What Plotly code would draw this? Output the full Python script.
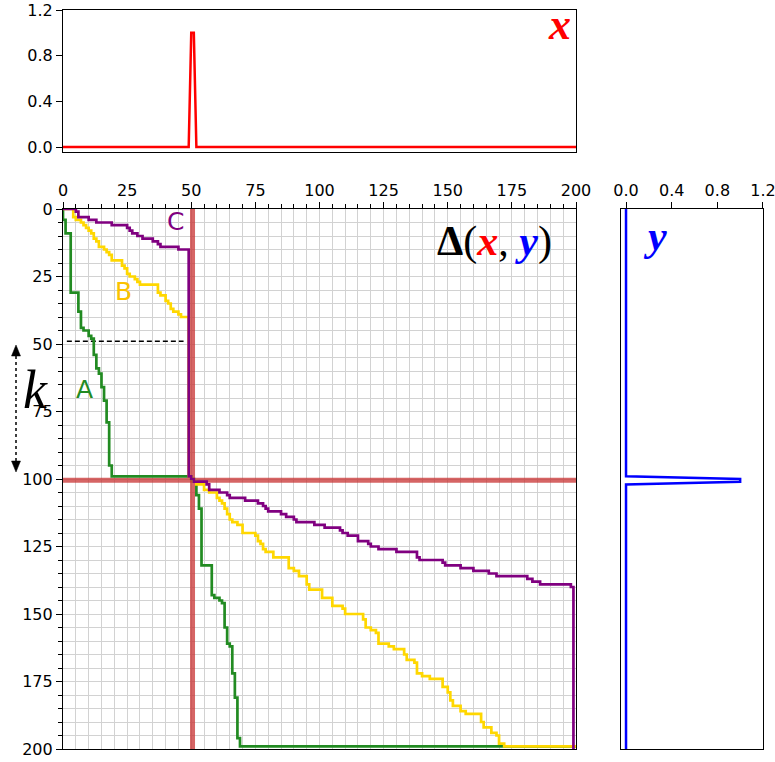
import plotly.graph_objects as go

W, H = 775, 762

# ---------------- data ----------------
n_points = 201
index = list(range(n_points))
x_spike_idx = [50, 51]
y_spike_idx = [100, 101]
x_signal = [1.0 if i in x_spike_idx else 0.0 for i in index]
y_signal = [1.0 if i in y_spike_idx else 0.0 for i in index]

x_peak = 50.5
y_peak = 100.5
k_marker_y = 49
k_marker_x = [1.5, 47]

signal_ticks = [0, 0.4, 0.8, 1.2]
signal_ticktext = ["0.0", "0.4", "0.8", "1.2"]

path_a_x = [0, 0, 1, 1, 3, 3, 6, 6, 7, 7, 8, 10, 11, 12, 12, 13, 13, 14, 15, 15, 16, 16, 17, 17, 18, 18, 19, 19, 49, 50,
            51, 52, 52, 53, 53, 54, 54, 57, 58, 58, 59, 60, 61, 62, 63, 63, 64, 64, 65, 66, 66, 67, 67, 68, 68, 69, 69, 200]
path_a_y = [0, 4, 5, 9, 10, 31, 31, 38, 39, 44, 45, 47, 48, 49, 54, 55, 59, 61, 63, 66, 67, 71, 72, 79, 80, 95, 96, 99, 99, 100,
            101, 102, 106, 107, 111, 112, 132, 132, 133, 143, 144, 144, 145, 146, 148, 155, 156, 161, 162, 165, 172, 173, 181, 182, 196, 197, 199, 199]

path_b_x = [0, 3, 4, 4, 5, 7, 8, 9, 10, 11, 12, 13, 14, 16, 17, 18, 19, 19, 22, 23, 23, 24, 25, 26, 28, 29, 30, 36, 37, 37,
            38, 40, 41, 42, 43, 45, 46, 49, 49, 50, 51,
            52, 54, 55, 57, 59, 60, 61, 62, 63, 64, 65, 66, 68, 70, 70, 74, 75, 76, 77, 78, 79, 82, 87, 88, 88, 90, 92, 95, 96,
            99, 101, 101, 103, 105, 109, 110, 114, 117, 118, 120, 122, 123, 123, 127, 129, 132, 133, 134, 137, 138, 138, 140,
            143, 146, 148, 150, 151, 152, 155, 157, 160, 163, 164, 167, 169, 170, 172, 200]
path_b_y = [0, 0, 1, 3, 4, 5, 6, 7, 8, 9, 11, 12, 14, 15, 16, 17, 18, 19, 19, 20, 21, 22, 24, 25, 26, 27, 28, 28, 30, 31,
            32, 34, 35, 37, 38, 39, 40, 40, 99, 100, 101,
            102, 102, 104, 105, 105, 107, 108, 109, 111, 113, 115, 116, 117, 118, 120, 120, 121, 123, 124, 126, 127, 129, 129, 131, 133, 134, 136, 139, 141,
            141, 142, 144, 144, 147, 148, 150, 150, 152, 155, 156, 157, 158, 161, 162, 163, 163, 165, 167, 168, 170, 172, 173,
            174, 174, 177, 179, 182, 184, 186, 187, 187, 190, 192, 194, 195, 198, 199, 199]

path_c_x = [0, 4, 5, 6, 9, 10, 12, 13, 18, 19, 24, 25, 26, 27, 29, 31, 33, 35, 37, 38, 44, 45, 49, 49, 50, 51,
            55, 56, 57, 57, 60, 61, 64, 65, 70, 71, 75, 76, 78, 79, 80, 83, 85, 87, 90, 91, 96, 98, 101, 102, 108, 109, 111,
            114, 115, 118, 119, 120, 123, 129, 130, 137, 138, 139, 146, 148, 149, 154, 155, 159, 160, 165, 166, 168, 169,
            180, 181, 183, 186, 197, 198, 199, 199]
path_c_y = [0, 0, 1, 3, 3, 4, 4, 5, 5, 6, 6, 7, 8, 9, 10, 11, 11, 12, 13, 14, 14, 15, 15, 99, 100, 101,
            101, 102, 103, 104, 104, 105, 106, 107, 107, 108, 108, 109, 110, 111, 112, 112, 113, 114, 115, 116, 116, 117, 117, 118, 119, 120, 121,
            121, 123, 123, 124, 125, 126, 126, 127, 127, 129, 130, 130, 131, 132, 132, 133, 133, 134, 134, 135, 135, 136,
            136, 137, 138, 139, 139, 140, 141, 200]

# ---------------- layout helpers ----------------
def px_x(px):
    return px / W

def px_y(py):
    return 1 - py / H

main_xd = [px_x(63), px_x(576)]
main_yd = [px_y(749), px_y(209)]
top_yd = [px_y(152), px_y(10)]
right_xd = [px_x(621), px_x(763)]

GREEN = "#228B22"
GOLD = "#FFD700"
PURPLE = "#800080"
GRID = "#d2d2d2"
TICKFONT = dict(family="DejaVu Sans", size=16, color="black")

fig = go.Figure()

# top panel: x signal
fig.add_trace(go.Scatter(x=index, y=x_signal, mode="lines", line=dict(color="red", width=2.5),
                         xaxis="x2", yaxis="y2", showlegend=False, hoverinfo="skip"))
# right panel: y signal
fig.add_trace(go.Scatter(x=y_signal, y=index, mode="lines", line=dict(color="blue", width=2.5),
                         xaxis="x3", yaxis="y3", showlegend=False, hoverinfo="skip"))

# main panel: peak markers
fig.add_trace(go.Scatter(x=[x_peak, x_peak], y=[0, 200], mode="lines",
                         line=dict(color="rgba(200,50,50,0.75)", width=5), showlegend=False, hoverinfo="skip"))
fig.add_trace(go.Scatter(x=[0, 200], y=[y_peak, y_peak], mode="lines",
                         line=dict(color="rgba(200,50,50,0.75)", width=5), showlegend=False, hoverinfo="skip"))
# dashed k marker
fig.add_trace(go.Scatter(x=k_marker_x, y=[k_marker_y, k_marker_y], mode="lines",
                         line=dict(color="black", width=1.5, dash="5px,3px"), showlegend=False, hoverinfo="skip"))

# warping paths
for xs, ys, col in [(path_a_x, path_a_y, GREEN), (path_b_x, path_b_y, GOLD), (path_c_x, path_c_y, PURPLE)]:
    fig.add_trace(go.Scatter(x=xs, y=ys, mode="lines", line=dict(color=col, width=2.7, shape="hv"),
                             showlegend=False, hoverinfo="skip"))

axis_common = dict(showline=True, mirror=True, linecolor="black", linewidth=1.2, zeroline=False,
                   automargin=False, tickfont=TICKFONT, tickcolor="black")

fig.update_layout(
    width=W, height=H, margin=dict(l=0, r=0, t=0, b=0), autosize=False,
    paper_bgcolor="white", plot_bgcolor="white",
    xaxis=dict(domain=main_xd, range=[0, 200], side="top", anchor="y", tickmode="linear", tick0=0, dtick=25,
               ticks="outside", ticklen=6, tickwidth=1.2, showgrid=True, gridcolor=GRID, gridwidth=1.3,
               ticklabeloverflow="allow",
               minor=dict(dtick=5, tick0=0, ticks="outside", ticklen=3.5, tickwidth=1, tickcolor="black",
                          showgrid=True, gridcolor=GRID, gridwidth=1.3),
               **axis_common),
    yaxis=dict(domain=main_yd, range=[200, 0], anchor="x", tickmode="linear", tick0=0, dtick=25,
               ticks="outside", ticklen=6, tickwidth=1.2, showgrid=True, gridcolor=GRID, gridwidth=1.3,
               ticklabeloverflow="allow",
               minor=dict(dtick=5, tick0=0, ticks="outside", ticklen=3.5, tickwidth=1, tickcolor="black",
                          showgrid=True, gridcolor=GRID, gridwidth=1.3),
               **axis_common),
    xaxis2=dict(domain=main_xd, range=[0, 200], anchor="y2", showticklabels=False, ticks="", showgrid=False,
                **axis_common),
    yaxis2=dict(domain=top_yd, range=[-0.0436, 1.2002], anchor="x2", tickvals=signal_ticks,
                ticktext=signal_ticktext, ticks="outside", ticklen=6, tickwidth=1.2, showgrid=False,
                ticklabeloverflow="allow", **axis_common),
    xaxis3=dict(domain=right_xd, range=[-0.044, 1.2002], anchor="y3", side="top", tickvals=signal_ticks,
                ticktext=signal_ticktext, ticks="outside", ticklen=6, tickwidth=1.2, showgrid=False,
                ticklabeloverflow="allow", **axis_common),
    yaxis3=dict(domain=main_yd, range=[200, 0], anchor="x3", showticklabels=False, ticks="", showgrid=False,
                **axis_common),
)

serif = "Liberation Serif"
annotations = [
    dict(text="C", x=44, y=4.8, xref="x", yref="y", showarrow=False,
         font=dict(family="DejaVu Sans", size=25, color=PURPLE)),
    dict(text="B", x=23.4, y=30.4, xref="x", yref="y", showarrow=False,
         font=dict(family="DejaVu Sans", size=25, color="#FBC200")),
    dict(text="A", x=8.2, y=67, xref="x", yref="y", showarrow=False,
         font=dict(family="DejaVu Sans", size=25, color=GREEN)),
    dict(text="<b>Δ</b>(<b><i><span style='color:red'>x</span></i></b>, "
              "<b><i><span style='color:blue'>y</span></i></b>)",
         x=px_x(494), y=px_y(242), xref="paper", yref="paper", showarrow=False,
         xanchor="center", yanchor="middle", font=dict(family=serif, size=42, color="black")),
    dict(text="<b><i>x</i></b>", x=px_x(559), y=px_y(25), xref="paper", yref="paper", showarrow=False,
         xanchor="center", yanchor="middle", font=dict(family=serif, size=44, color="red")),
    dict(text="<b><i>y</i></b>", x=px_x(655), y=px_y(236), xref="paper", yref="paper", showarrow=False,
         xanchor="center", yanchor="middle", font=dict(family=serif, size=42, color="blue")),
    dict(text="<i>k</i>", x=px_x(35), y=px_y(390), xref="paper", yref="paper", showarrow=False,
         xanchor="center", yanchor="middle", font=dict(family=serif, size=54, color="black")),
]
fig.update_layout(annotations=annotations)

# k double arrow (dotted)
ax_px = 16
top_tip, bot_tip, head_h, head_w = 345, 472, 11, 4.5
shapes = [
    dict(type="line", xref="paper", yref="paper", x0=px_x(ax_px), x1=px_x(ax_px),
         y0=px_y(top_tip + head_h), y1=px_y(bot_tip - head_h), line=dict(color="black", width=1.5, dash="dot")),
    dict(type="path", xref="paper", yref="paper", fillcolor="black", line=dict(color="black", width=0.5),
         path=f"M {px_x(ax_px)},{px_y(top_tip)} L {px_x(ax_px - head_w)},{px_y(top_tip + head_h)} "
              f"L {px_x(ax_px + head_w)},{px_y(top_tip + head_h)} Z"),
    dict(type="path", xref="paper", yref="paper", fillcolor="black", line=dict(color="black", width=0.5),
         path=f"M {px_x(ax_px)},{px_y(bot_tip)} L {px_x(ax_px - head_w)},{px_y(bot_tip - head_h)} "
              f"L {px_x(ax_px + head_w)},{px_y(bot_tip - head_h)} Z"),
]
fig.update_layout(shapes=shapes)

fig.write_html("out.html", config={"displayModeBar": False},
               post_script="document.body.style.margin='0px';")
